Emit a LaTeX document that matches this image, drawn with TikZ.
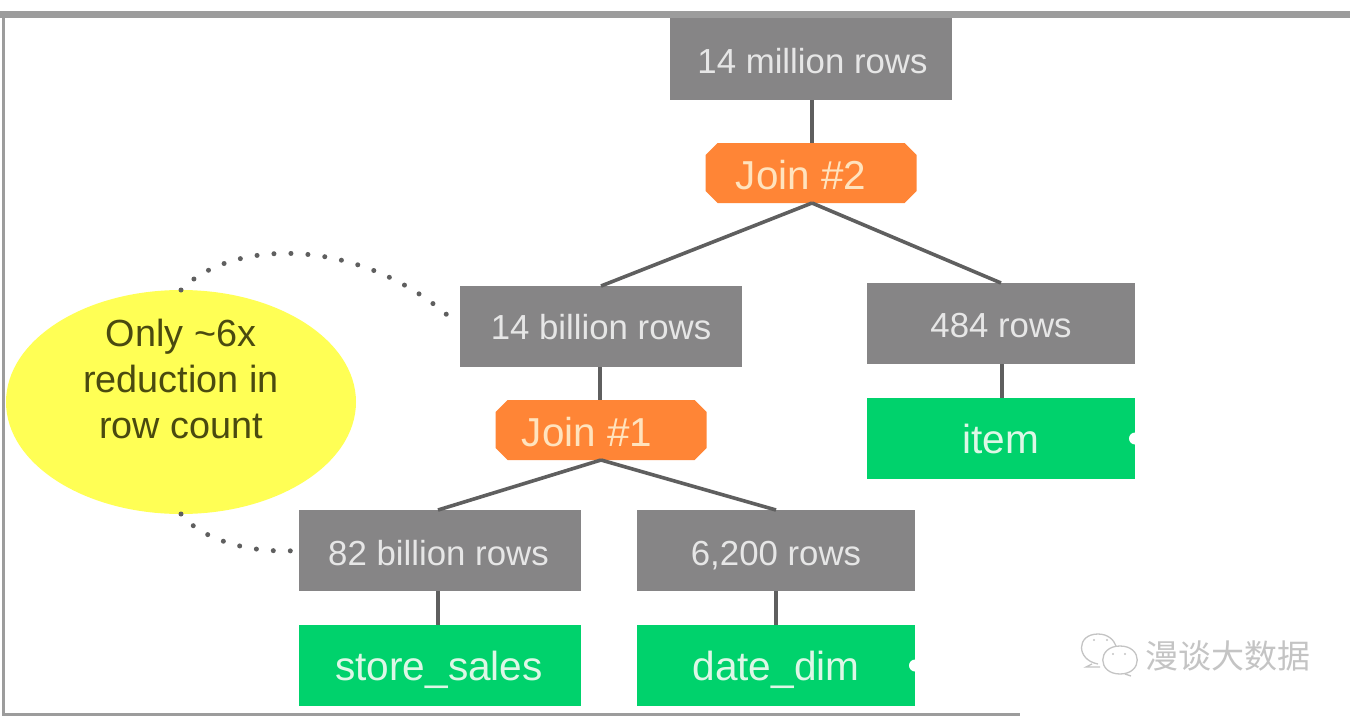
\documentclass[tikz,border=0pt]{standalone}
\usepackage{fontspec}
\setmainfont{Liberation Sans}
\newfontfamily\cjkfont{Noto Sans CJK SC}
\usetikzlibrary{shapes.misc,shapes.geometric}
\definecolor{boxgrey}{HTML}{868586}
\definecolor{boxtext}{HTML}{E6E6E6}
\definecolor{joinfill}{HTML}{FF8536}
\definecolor{jointext}{HTML}{FFE3BE}
\definecolor{tablefill}{HTML}{00D26C}
\definecolor{tabletext}{HTML}{DDF7E6}
\definecolor{notefill}{HTML}{FFFF55}
\definecolor{notetext}{HTML}{4A4A10}
\definecolor{linecol}{HTML}{5F5F5F}
\definecolor{framecol}{HTML}{9C9C9C}
\definecolor{markcol}{HTML}{C4C4C4}
\tikzset{
  x=1pt,y=-1pt,
  rowbox/.style={rectangle,fill=boxgrey,text=boxtext,inner sep=0pt,outer sep=0pt,
    font=\fontsize{34.8}{34.8}\selectfont,text height=29pt,text depth=0pt},
  joinbox/.style={chamfered rectangle,chamfered rectangle xsep=6pt,chamfered rectangle ysep=6pt,
    fill=joinfill,text=jointext,inner sep=0pt,outer sep=0pt,minimum width=211pt,minimum height=60pt,
    font=\fontsize{40.4}{40.4}\selectfont,text height=33pt,text depth=0pt},
  tablebox/.style={rectangle,fill=tablefill,text=tabletext,inner sep=0pt,outer sep=0pt,
    font=\fontsize{40.6}{40.6}\selectfont,text height=30pt,text depth=0pt},
  notebubble/.style={ellipse,fill=notefill,text=notetext,inner sep=0pt,outer sep=0pt,
    minimum width=350pt,minimum height=224pt,
    font=\fontsize{37.8}{46}\selectfont},
  link/.style={draw=linecol,line width=3.6pt},
  dotlink/.style={draw=linecol,line width=5pt,line cap=round,dash pattern=on 0pt off 17pt},
  notch/.style={fill=white},
  framebar/.style={fill=framecol},
  markline/.style={draw=markcol,line width=1.3pt},
}
\begin{document}
\begin{tikzpicture}
\useasboundingbox (0,0) rectangle (1350,728);
\fill[white] (0,0) rectangle (1350,728);
% frame
\fill[framebar] (0,11) rectangle (1350,18);
\fill[framebar] (2,11) rectangle (5,716);
\fill[framebar] (2,713) rectangle (1020,716);
% nodes
\node[rowbox,minimum width=282pt,minimum height=82pt] (top) at (811,59) {\hspace*{3pt}14 million rows};
\node[joinbox] (j2) at (811,173) {Join \#2\hspace*{20pt}};
\node[rowbox,minimum width=282pt,minimum height=81pt,text height=26pt] (b14) at (601,326.5) {14 billion rows};
\node[rowbox,minimum width=268pt,minimum height=81pt,text height=27pt] (r484) at (1001,323.5) {484 rows};
\node[tablebox,minimum width=268pt,minimum height=81pt] (item) at (1001,438.5) {item};
\node[joinbox] (j1) at (601,430) {Join \#1\hspace*{28pt}};
\node[rowbox,minimum width=282pt,minimum height=81pt] (b82) at (440,550.5) {82 billion rows\hspace*{3pt}};
\node[rowbox,minimum width=278pt,minimum height=81pt] (r62) at (776,550.5) {6,200 rows};
\node[tablebox,minimum width=282pt,minimum height=81pt] (ss) at (440,665.5) {store\_sales\hspace*{2pt}};
\node[tablebox,minimum width=278pt,minimum height=81pt] (dd) at (776,665.5) {date\_dim};
\node[notebubble] (note) at (181,402) {\raisebox{12.5pt}[0pt][0pt]{\begin{tabular}{@{}c@{}}Only \textasciitilde6x\\reduction in\\row count\end{tabular}}};
% connectors
\draw[link] ([xshift=1pt]top.south) -- ([xshift=1pt]j2.north);
\draw[link] ([xshift=1pt]j2.south) -- (b14.north);
\draw[link] ([xshift=1pt]j2.south) -- (r484.north);
\draw[link] ([xshift=-1pt]b14.south) -- ([xshift=-1pt]j1.north);
\draw[link] ([xshift=1pt]r484.south) -- ([xshift=1pt]item.north);
\draw[link] (j1.south) -- ([xshift=-2pt]b82.north);
\draw[link] (j1.south) -- (r62.north);
\draw[link] ([xshift=-2pt]b82.south) -- ([xshift=-2pt]ss.north);
\draw[link] (r62.south) -- (dd.north);
\draw[dotlink,shorten >=11pt] (note.north) .. controls (232,238) and (360,236) .. (b14.west);
\draw[dotlink,shorten >=5pt] (note.south) .. controls (200,538) and (245,553) .. (b82.west);
% white notches on the table boxes
\fill[notch] (item.east) circle (6);
\fill[notch] (dd.east) circle (6);
% watermark
\node[text=markcol,inner sep=0pt,font=\cjkfont\fontsize{33}{33}\selectfont] (mark) at (1228,656) {漫谈大数据};
\draw[markline] (1098,664) .. controls (1076,660) and (1076,634) .. (1098,634)
  .. controls (1108,634) and (1114,640) .. (1116,646);
\draw[markline] (1092,664) -- (1086,667) -- (1100,667);
\draw[markline] (1120,646) .. controls (1143,646) and (1143,674) .. (1120,674)
  .. controls (1097,674) and (1097,646) .. (1120,646);
\draw[markline] (1125,674) -- (1131,676);
\fill[markcol] (1094,640) circle (1.2) (1107,640) circle (1.2) (1113,654) circle (1.2) (1125,654) circle (1.2);
\end{tikzpicture}
\end{document}
